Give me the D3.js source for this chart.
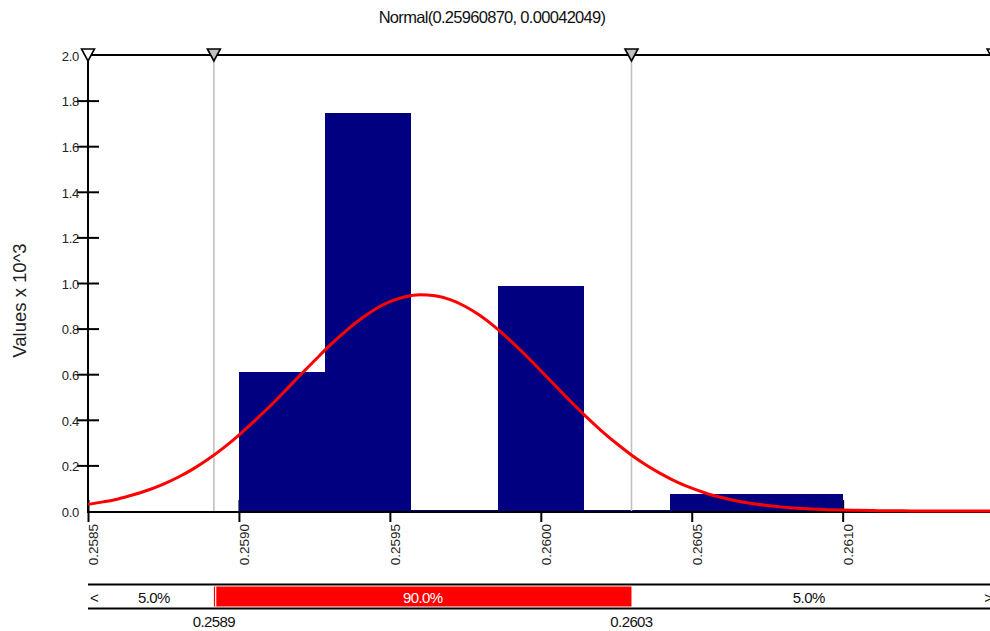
<!DOCTYPE html>
<html>
<head>
<meta charset="utf-8">
<script src="https://cdn.jsdelivr.net/npm/d3@7"></script>
<style>
    body { margin: 0; background: #fff; }
    svg { display: block; font-family: 'Liberation Sans', Arial, sans-serif; }
</style>
</head>
<body>
<svg id="canvas"></svg>
<script>
let title = 'Normal(0.25960870, 0.00042049)'
let yTitle = 'Values x 10^3'

// histogram bins (edges) and heights, values x 10^3
let binEdges = [0.2590, 0.2592857, 0.2595714, 0.2598571, 0.2601429, 0.2604286, 0.2607143, 0.2610]
let binValues = [0.608, 1.745, 0, 0.987, 0, 0.073, 0.073]

// fitted curve
let curveX = [
    0.25850, 0.25855, 0.25860, 0.25865, 0.25870, 0.25875, 0.25880, 0.25885, 0.25890, 0.25895,
    0.25900, 0.25905, 0.25910, 0.25915, 0.25920, 0.25925, 0.25930, 0.25935, 0.25940, 0.25945,
    0.25950, 0.25955, 0.25960, 0.25965, 0.25970, 0.25975, 0.25980, 0.25985, 0.25990, 0.25995,
    0.26000, 0.26005, 0.26010, 0.26015, 0.26020, 0.26025, 0.26030, 0.26035, 0.26040, 0.26045,
    0.26050, 0.26055, 0.26060, 0.26065, 0.26070, 0.26075, 0.26080, 0.26085, 0.26090, 0.26095,
    0.26100, 0.26105, 0.26110, 0.26115, 0.26120, 0.26125, 0.26130, 0.26135, 0.26140, 0.26145, 0.26150
]
let curveY = [
    0.029, 0.040, 0.053, 0.071, 0.092, 0.118, 0.149, 0.186, 0.229, 0.278,
    0.333, 0.393, 0.456, 0.523, 0.592, 0.659, 0.725, 0.785, 0.839, 0.884,
    0.918, 0.940, 0.949, 0.944, 0.927, 0.897, 0.856, 0.805, 0.746, 0.683,
    0.615, 0.547, 0.479, 0.414, 0.353, 0.297, 0.246, 0.201, 0.162, 0.128,
    0.100, 0.077, 0.059, 0.044, 0.033, 0.024, 0.017, 0.012, 0.009, 0.006,
    0.004, 0.003, 0.002, 0.001, 0.001, 0.000, 0.000, 0.000, 0.000, 0.000, 0.000
]

let xTicks = [0.2585, 0.2590, 0.2595, 0.2600, 0.2605, 0.2610, 0.2615]
let yTicks = [0.0, 0.2, 0.4, 0.6, 0.8, 1.0, 1.2, 1.4, 1.6, 1.8, 2.0]

// delimiters (5% / 95%) and the band labels
let markerValues = [0.2589170, 0.2603004]
let markerLabels = ['0.2589', '0.2603']
let bandLabels = ['5.0%', '90.0%', '5.0%']

let width = 990
let height = 631
let plotLeft = 88
let plotTop = 55
let plotBottom = 511

let canvas = d3.select('#canvas')
    .attr('width', width)
    .attr('height', height)

let xScale = d3.scaleLinear()
    .domain([0.2585, 0.2615])
    .range([plotLeft, 993.6])
let yScale = d3.scaleLinear()
    .domain([0, 2.0])
    .range([plotBottom, plotTop])

let drawAxes = () => {
    let xAxis = d3.axisBottom(xScale)
        .tickValues(xTicks)
        .tickSize(11)
        .tickFormat(d3.format('.4f'))
    let gx = canvas.append('g')
        .attr('transform', 'translate(0,' + plotBottom + ')')
        .call(xAxis)
    gx.select('.domain').remove()
    gx.selectAll('.tick line')
        .attr('y1', -11)
        .attr('stroke', '#000')
        .attr('stroke-width', 2)
    gx.selectAll('.tick text')
        .attr('y', 0)
        .attr('dy', 0)
        .attr('transform', 'translate(9.5,13) rotate(-90)')
        .attr('text-anchor', 'end')
        .attr('font-size', 13.5)
        .attr('fill', '#222')

    let yAxis = d3.axisLeft(yScale)
        .tickValues(yTicks)
        .tickSize(11)
        .tickFormat(d3.format('.1f'))
    let gy = canvas.append('g')
        .attr('transform', 'translate(' + plotLeft + ',0)')
        .call(yAxis)
    gy.select('.domain').remove()
    gy.selectAll('.tick line')
        .attr('x2', 11)
        .attr('x1', -11)
        .attr('stroke', '#000')
        .attr('stroke-width', 2)
        .attr('display', (d) => (d === 0 || d === 2.0) ? 'none' : null)
    gy.selectAll('.tick text')
        .attr('x', -9)
        .attr('dy', '0.4em')
        .attr('font-size', 13)
        .attr('letter-spacing', -0.3)
        .attr('fill', '#222')
}

let drawBars = () => {
    canvas.selectAll('rect.bar')
        .data(binValues)
        .enter()
        .append('rect')
        .attr('class', 'bar')
        .attr('fill', '#000080')
        .attr('shape-rendering', 'crispEdges')
        .attr('x', (d, i) => Math.round(xScale(binEdges[i])))
        .attr('width', (d, i) => Math.round(xScale(binEdges[i + 1])) - Math.round(xScale(binEdges[i])))
        .attr('y', (d) => Math.round(Math.min(yScale(d), plotBottom - 1)))
        .attr('height', (d) => plotBottom - Math.round(Math.min(yScale(d), plotBottom - 1)))
}

let drawFrame = () => {
    // grey delimiter lines
    canvas.selectAll('line.delim')
        .data(markerValues)
        .enter()
        .append('line')
        .attr('class', 'delim')
        .attr('x1', (d) => xScale(d))
        .attr('x2', (d) => xScale(d))
        .attr('y1', plotTop)
        .attr('y2', plotBottom)
        .attr('stroke', '#c0c0c0')
        .attr('stroke-width', 1.6)

    canvas.append('line')
        .attr('x1', plotLeft).attr('x2', width)
        .attr('y1', plotTop).attr('y2', plotTop)
        .attr('stroke', '#000').attr('stroke-width', 2)
    canvas.append('line')
        .attr('x1', plotLeft).attr('x2', width)
        .attr('y1', plotBottom + 1).attr('y2', plotBottom + 1)
        .attr('stroke', '#000').attr('stroke-width', 2)
    canvas.append('line')
        .attr('x1', plotLeft).attr('x2', plotLeft)
        .attr('y1', plotTop).attr('y2', plotBottom + 2)
        .attr('stroke', '#000').attr('stroke-width', 2)
}

let drawCurve = () => {
    let line = d3.line()
        .x((d, i) => xScale(curveX[i]))
        .y((d) => yScale(d))
        .curve(d3.curveMonotoneX)
    canvas.append('path')
        .datum(curveY)
        .attr('d', line)
        .attr('fill', 'none')
        .attr('stroke', '#ff0000')
        .attr('stroke-width', 3)
}

let drawMarkers = () => {
    let ends = xScale.domain()
    let marks = [
        { v: ends[0], fill: '#fff' },
        { v: markerValues[0], fill: '#c0c0c0' },
        { v: markerValues[1], fill: '#c0c0c0' },
        { v: ends[1], fill: '#fff' }
    ]
    canvas.selectAll('path.marker')
        .data(marks)
        .enter()
        .append('path')
        .attr('class', 'marker')
        .attr('d', (d) => {
            let x = xScale(d.v)
            return 'M' + (x - 6.5) + ',' + (plotTop - 6) + 'L' + (x + 6.5) + ',' + (plotTop - 6) + 'L' + x + ',' + (plotTop + 6) + 'Z'
        })
        .attr('fill', (d) => d.fill)
        .attr('stroke', '#000')
        .attr('stroke-width', 1.6)
}

let drawBand = () => {
    let y0 = 584.5
    let y1 = 608.5
    let xa = xScale(markerValues[0])
    let xb = xScale(markerValues[1])
    canvas.append('rect')
        .attr('x', xa)
        .attr('y', y0 + 2)
        .attr('width', xb - xa)
        .attr('height', y1 - y0 - 4)
        .attr('fill', '#ff0000')
    canvas.append('line')
        .attr('x1', xa + 1.8).attr('x2', xa + 1.8)
        .attr('y1', y0 + 2).attr('y2', y1 - 2)
        .attr('stroke', '#fff').attr('stroke-width', 1.2)
    canvas.selectAll('line.bandEdge')
        .data([y0, y1])
        .enter()
        .append('line')
        .attr('class', 'bandEdge')
        .attr('x1', plotLeft).attr('x2', width)
        .attr('y1', (d) => d).attr('y2', (d) => d)
        .attr('stroke', '#000').attr('stroke-width', 2)

    let mids = [(plotLeft + xa) / 2 + 3, (xa + xb) / 2, (xb + width) / 2 - 2]
    canvas.selectAll('text.band')
        .data(bandLabels)
        .enter()
        .append('text')
        .attr('class', 'band')
        .attr('x', (d, i) => mids[i])
        .attr('y', 603)
        .attr('text-anchor', 'middle')
        .attr('font-size', 15)
        .attr('letter-spacing', -0.6)
        .attr('fill', (d, i) => i === 1 ? '#fff' : '#111')
        .text((d) => d)

    canvas.append('text')
        .attr('x', plotLeft + 2).attr('y', 603)
        .attr('font-size', 15).attr('fill', '#111')
        .text('<')
    canvas.append('text')
        .attr('x', width + 3).attr('y', 603)
        .attr('text-anchor', 'end')
        .attr('font-size', 15).attr('fill', '#111')
        .text('>')

    canvas.selectAll('text.delimLabel')
        .data(markerLabels)
        .enter()
        .append('text')
        .attr('class', 'delimLabel')
        .attr('x', (d, i) => xScale(markerValues[i]))
        .attr('y', 626.5)
        .attr('text-anchor', 'middle')
        .attr('font-size', 15)
        .attr('letter-spacing', -0.6)
        .attr('fill', '#111')
        .text((d) => d)
}

let drawTitles = () => {
    canvas.append('text')
        .attr('x', 492)
        .attr('y', 23)
        .attr('text-anchor', 'middle')
        .attr('font-size', 16.5)
        .attr('letter-spacing', -0.7)
        .attr('fill', '#111')
        .text(title)
    canvas.append('text')
        .attr('transform', 'translate(26,300.5) rotate(-90)')
        .attr('text-anchor', 'middle')
        .attr('font-size', 18.5)
        .attr('fill', '#222')
        .text(yTitle)
}

drawAxes()
drawBars()
drawFrame()
drawCurve()
drawMarkers()
drawBand()
drawTitles()
</script>
</body>
</html>
